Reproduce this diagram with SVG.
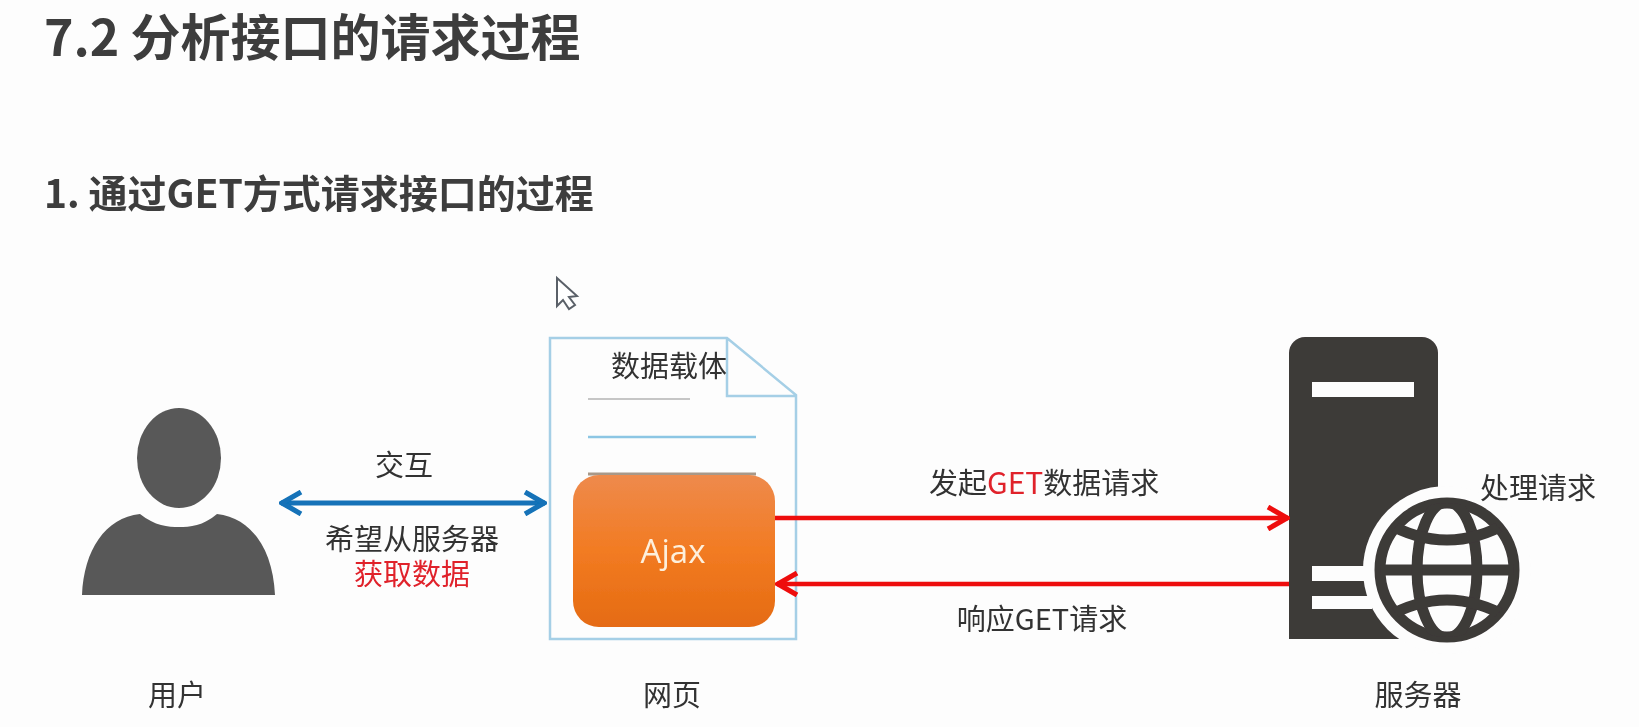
<svg xmlns="http://www.w3.org/2000/svg" width="1639" height="727" viewBox="0 0 1639 727">
<style>
text{font-family:"Noto Sans CJK SC","Noto Sans",sans-serif;fill:#333}
.h{font-weight:700;fill:#3d3d3d}
.l{font-size:29px;text-anchor:middle}
.lm{font-size:29px}
.red{fill:#e0202a}
.doc{fill:none;stroke:#a5cfe6;stroke-width:2.5}
.srv{fill:#3e3a39}
.w{fill:#fdfdfd}
.gl{fill:none;stroke:#3e3a39;stroke-width:11}
</style>
<defs>
<linearGradient id="aj" x1="0" y1="0" x2="0" y2="1"><stop offset="0" stop-color="#ee8a4c"/><stop offset=".5" stop-color="#f27b22"/><stop offset="1" stop-color="#e56b12"/></linearGradient>
<marker id="ab" markerUnits="userSpaceOnUse" viewBox="0 0 26 26" markerWidth="26" markerHeight="26" refX="24" refY="13" orient="auto-start-reverse"><path d="M4 2 L23 13 L4 24" fill="none" stroke="#1272b8" stroke-width="5"/></marker>
<marker id="ar" markerUnits="userSpaceOnUse" viewBox="0 0 26 26" markerWidth="26" markerHeight="26" refX="24" refY="13" orient="auto-start-reverse"><path d="M4 2 L23 13 L4 24" fill="none" stroke="#ee0a0a" stroke-width="5"/></marker>
<clipPath id="gc"><circle cx="1447" cy="570" r="67"/></clipPath>
<filter id="soft" x="0" y="0" width="100%" height="100%"><feGaussianBlur stdDeviation="0.5"/></filter>
</defs>
<rect width="1639" height="727" fill="#fdfdfd"/>
<g filter="url(#soft)">
<g id="titles">
<text class="h" x="44" y="56" font-size="50">7.2 分析接口的请求过程</text>
<text class="h" x="44" y="208" font-size="39">1. 通过GET方式请求接口的过程</text>
</g>
<g id="cursor"><path d="M557 278 V306 L563 300 L569 309 L575 305 L569 297 L577 296 Z" fill="#fff" stroke="#5a6068" stroke-width="2"/></g>
<g id="user">
<ellipse cx="179" cy="458" rx="42" ry="50" fill="#595959"/>
<path d="M82 595 C84 550 105 518 140 514 C155 526 168 527 179 527 C190 527 203 526 217 514 C252 518 273 550 275 595 Z" fill="#595959"/>
<text class="l" x="177" y="706">用户</text>
</g>
<g id="page">
<path class="doc" d="M550 338 H727 L796 395 V639 H550 Z M727 338 V396 H796"/>
<path d="M588 399 H690" stroke="#b5b5b5" stroke-width="1.5"/>
<path d="M588 437 H756" stroke="#8cc6e4" stroke-width="2.5"/>
<text class="lm" x="611" y="377">数据载体</text>
<text class="l" x="672" y="706">网页</text>
</g>
<g id="ajax">
<path d="M588 474 H756" stroke="#a89888" stroke-width="3"/>
<rect x="573" y="475" width="202" height="152" rx="26" fill="url(#aj)"/>
<text x="673" y="563" font-size="33" text-anchor="middle" style="font-family:'Open Sans',sans-serif;fill:#fdf0dc">Ajax</text>
</g>
<g id="server">
<path class="srv" d="M1289 639 V353 A16 16 0 0 1 1305 337 H1422 A16 16 0 0 1 1438 353 V570 L1400 639 Z"/>
<circle class="w" cx="1447" cy="570" r="84"/>
<rect class="w" x="1312" y="382" width="102" height="15"/>
<rect class="w" x="1312" y="566" width="55" height="15"/>
<rect class="w" x="1312" y="596" width="60" height="13"/>
<circle cx="1447" cy="570" r="67" fill="#fdfdfd" stroke="#3e3a39" stroke-width="11"/>
<g clip-path="url(#gc)">
<path class="gl" d="M1375 570 H1519"/>
<ellipse class="gl" cx="1447" cy="570" rx="30" ry="68"/>
<path class="gl" d="M1385 522 Q1447 558 1509 522 M1385 618 Q1447 582 1509 618"/>
</g>
<text class="l" x="1418" y="706">服务器</text>
</g>
<g id="connectors" fill="none">
<path d="M281 503 H545" stroke="#1272b8" stroke-width="5" marker-start="url(#ab)" marker-end="url(#ab)"/>
<path d="M775 518 H1288" stroke="#ee0a0a" stroke-width="4.5" marker-end="url(#ar)"/>
<path d="M1289 584 H777" stroke="#ee0a0a" stroke-width="4.5" marker-end="url(#ar)"/>
</g>
<g id="labels">
<text class="l" x="404" y="476">交互</text>
<text class="l" x="412" y="550">希望从服务器<tspan class="red" x="412" dy="35">获取数据</tspan></text>
<text class="lm" x="929" y="494">发起<tspan class="red" font-size="30">GET</tspan>数据请求</text>
<text class="l" x="1042" y="630">响应GET请求</text>
<text class="lm" x="1480" y="499">处理请求</text>
</g>
</g>
</svg>
